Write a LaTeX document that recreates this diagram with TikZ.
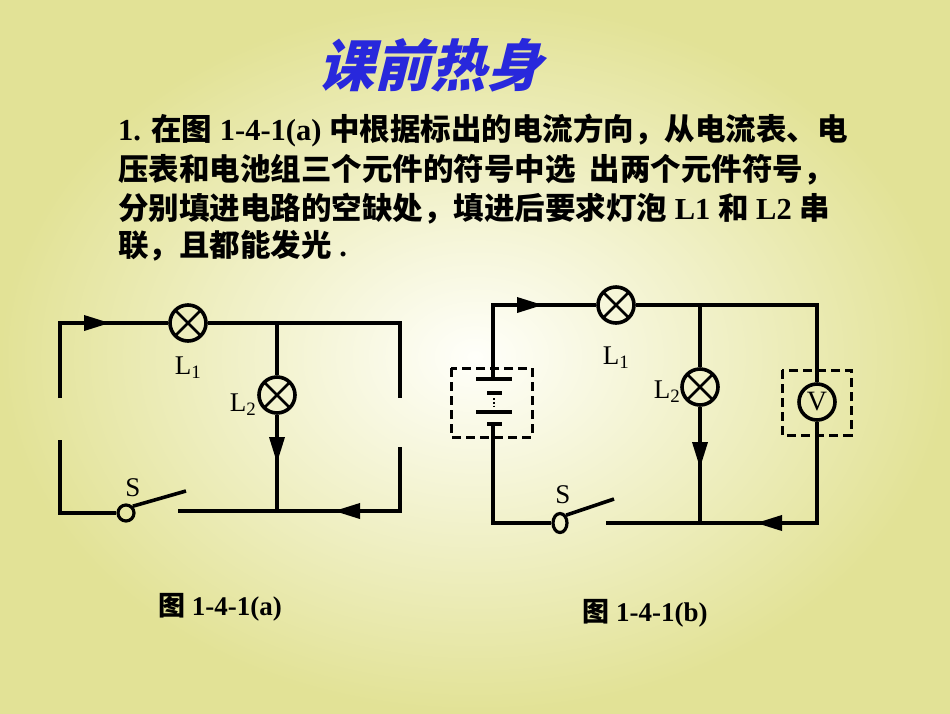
\documentclass[tikz,border=0pt]{standalone}
\usepackage{fontspec}
\setmainfont{Liberation Serif}
\newfontfamily\cjk{Noto Sans CJK SC}
\newfontfamily\cjkt[FakeSlant=0.25]{Noto Sans CJK SC}
\usetikzlibrary{arrows.meta,shapes.geometric}
\definecolor{bgout}{RGB}{226,226,150}
\definecolor{bgin}{RGB}{255,255,250}
\definecolor{ttl}{RGB}{40,40,220}
\tikzset{
 wire/.style={line width=3.6pt},
 lamp/.style={circle,draw,line width=3.6pt,minimum size=36pt,inner sep=0pt,
   path picture={\draw[line width=2.8pt] (path picture bounding box.north west)--(path picture bounding box.south east) (path picture bounding box.north east)--(path picture bounding box.south west);}},
 meter/.style={circle,draw,line width=3.6pt,minimum size=36pt,inner sep=0pt,font=\fontsize{28}{28}\selectfont},
 swc/.style={circle,draw,line width=3.2pt,minimum size=16pt,inner sep=0pt},
 tip/.style={-{Triangle[length=26pt,width=15pt]},line width=3.6pt},
 lbl/.style={font=\fontsize{27}{27}\selectfont},
 dbox/.style={draw,line width=3pt,dash pattern=on 9pt off 5pt},
 txt/.style={anchor=west,inner sep=0pt,font=\fontsize{30.5}{31}\selectfont\bfseries}
}
\begin{document}
\begin{tikzpicture}[x=1pt,y=-1pt]
\shade[inner color=bgin,outer color=bgout] (0,0) rectangle (950,713);
\useasboundingbox (0,0) rectangle (950,713);
\node[ttl,font=\fontsize{56}{56}\selectfont\cjkt\bfseries] (title) at (430,65) {课前热身};
\node[txt] (t1) at (118,130) {1. {\cjk 在图} 1-4-1(a) {\cjk 中根据标出的电流方向，从电流表、电}};
\node[txt] (t2) at (118,170) {\cjk 压表和电池组三个元件的符号中选\ \ 出两个元件符号，};
\node[txt] (t3) at (118,209) {{\cjk 分别填进电路的空缺处，填进后要求灯泡} L1 {\cjk 和} L2 {\cjk 串}};
\node[txt] (t4) at (118,246) {{\cjk 联，且都能发光} .};
% circuit a
\node[lamp] (aL1) at (188,323) {};
\node[lamp] (aL2) at (277,395) {};
\node[swc] (aS) at (126,513) {};
\coordinate (a1) at (60,323); \coordinate (a2) at (400,323);
\coordinate (a3) at (277,323); \coordinate (a4) at (277,511);
\coordinate (a5) at (400,511); \coordinate (a6) at (60,513);
\draw[wire] (60,398)--(a1)--(aL1.west) (aL1.east)--(a2)--(400,398);
\draw[wire] (a3)--(aL2.north) (aL2.south)--(a4);
\draw[wire] (60,440)--(a6)--(aS.west);
\draw[wire] (178,511)--(a5)--(400,447);
\draw[wire] (aS.north east)--(186,491);
\draw[tip] (75,323)--(110,323);
\draw[tip] (277,420)--(277,463);
\draw[tip] (380,511)--(334,511);
\node[lbl] (aL1t) at (188,368) {L\textsubscript{1}};
\node[lbl] (aL2t) at (243,405) {L\textsubscript{2}};
\node[lbl] (aSt) at (133,488) {S};
\node[font=\fontsize{27}{27}\selectfont\bfseries] (capa) at (220,607) {{\cjk 图} 1-4-1(a)};
% circuit b
\node[lamp] (bL1) at (616,305) {};
\node[lamp] (bL2) at (700,387) {};
\node[meter] (bV) at (817,402) {V};
\node[ellipse,draw,line width=3.2pt,minimum width=14pt,minimum height=19pt,inner sep=0pt] (bS) at (560,523) {};
\coordinate (b1) at (493,305); \coordinate (b2) at (817,305);
\coordinate (b3) at (700,305); \coordinate (b4) at (700,523);
\coordinate (b5) at (817,523); \coordinate (b6) at (493,523);
\draw[wire] (493,379)--(b1)--(bL1.west) (bL1.east)--(b2)--(bV.north);
\draw[wire] (b3)--(bL2.north) (bL2.south)--(b4);
\draw[wire] (bV.south)--(b5)--(606,523);
\draw[wire] (493,424)--(b6)--(bS.west);
\draw[wire] (bS.north east)--(614,499);
\draw[wire] (476,379)--(512,379) (476,412)--(512,412) (487,424)--(502,424);
\draw[wire] (487,393)--(502,393);
\draw[line width=1.8pt,dotted] (494,398)--(494,408);
\draw[dbox] (451,368) rectangle (532,437);
\draw[dbox] (782,370) rectangle (851,435);
\draw[tip] (508,305)--(543,305);
\draw[tip] (700,425)--(700,468);
\draw[tip] (800,523)--(756,523);
\node[lbl] (bL1t) at (616,358) {L\textsubscript{1}};
\node[lbl] (bL2t) at (667,392) {L\textsubscript{2}};
\node[lbl] (bSt) at (563,495) {S};
\node[font=\fontsize{27}{27}\selectfont\bfseries] (capb) at (645,613) {{\cjk 图} 1-4-1(b)};
\end{tikzpicture}
\end{document}
